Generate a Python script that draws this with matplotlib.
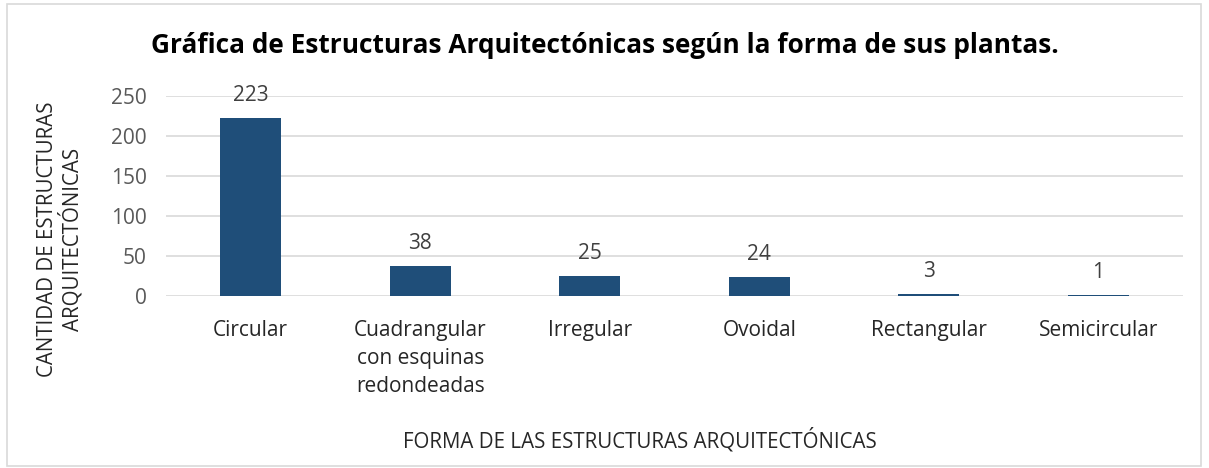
import matplotlib
matplotlib.use("Agg")
import matplotlib.pyplot as plt
from matplotlib.patches import Rectangle

categories = ["Circular", "Cuadrangular\ncon esquinas\nredondeadas", "Irregular",
              "Ovoidal", "Rectangular", "Semicircular"]
counts = [223, 38, 25, 24, 3, 1]
yticks = [0, 50, 100, 150, 200, 250]

plt.rcParams['font.family'] = ['Open Sans', 'DejaVu Sans']

fig = plt.figure(figsize=(12.09, 4.68), dpi=100)
fig.patches.append(Rectangle((0.006, 0.004), 0.987, 0.988, transform=fig.transFigure,
                             fill=False, edgecolor="#d9d9d9", linewidth=1.2))

ax = fig.add_axes([0.1373, 0.3675, 0.8412, 0.4274])
x = range(len(categories))
bars = ax.bar(x, counts, width=0.36, color="#1f4e79", zorder=3)
for xi, v in zip(x, counts):
    ax.text(xi, v + 15, str(v), ha="center", va="bottom", fontsize=15, color="#404040")

ax.set_xlim(-0.5, len(categories) - 0.5)
ax.set_ylim(0, 250)
ax.set_yticks(yticks)
ax.set_xticks(list(x))
ax.set_xticklabels(categories, fontsize=15, color="#262626", linespacing=1.45)
ax.tick_params(axis="y", labelsize=15, labelcolor="#595959", length=0, pad=14)
ax.tick_params(axis="x", length=0, pad=17)
ax.grid(axis="y", color="#d9d9d9", linewidth=1.2, zorder=0)
for s in ax.spines.values():
    s.set_visible(False)

fig.text(0.5, 0.903, "Gráfica de Estructuras Arquitectónicas según la forma de sus plantas.",
         ha="center", va="center", fontsize=18.9, fontweight="bold", color="black")
fig.text(0.0495, 0.489, "CANTIDAD DE ESTRUCTURAS\nARQUITECTÓNICAS", rotation=90,
         ha="center", va="center", fontsize=14.8, color="#262626", linespacing=1.05)
fig.text(0.529, 0.06, "FORMA DE LAS ESTRUCTURAS ARQUITECTÓNICAS",
         ha="center", va="center", fontsize=14.8, color="#262626")

fig.savefig("out.png", dpi=100)
